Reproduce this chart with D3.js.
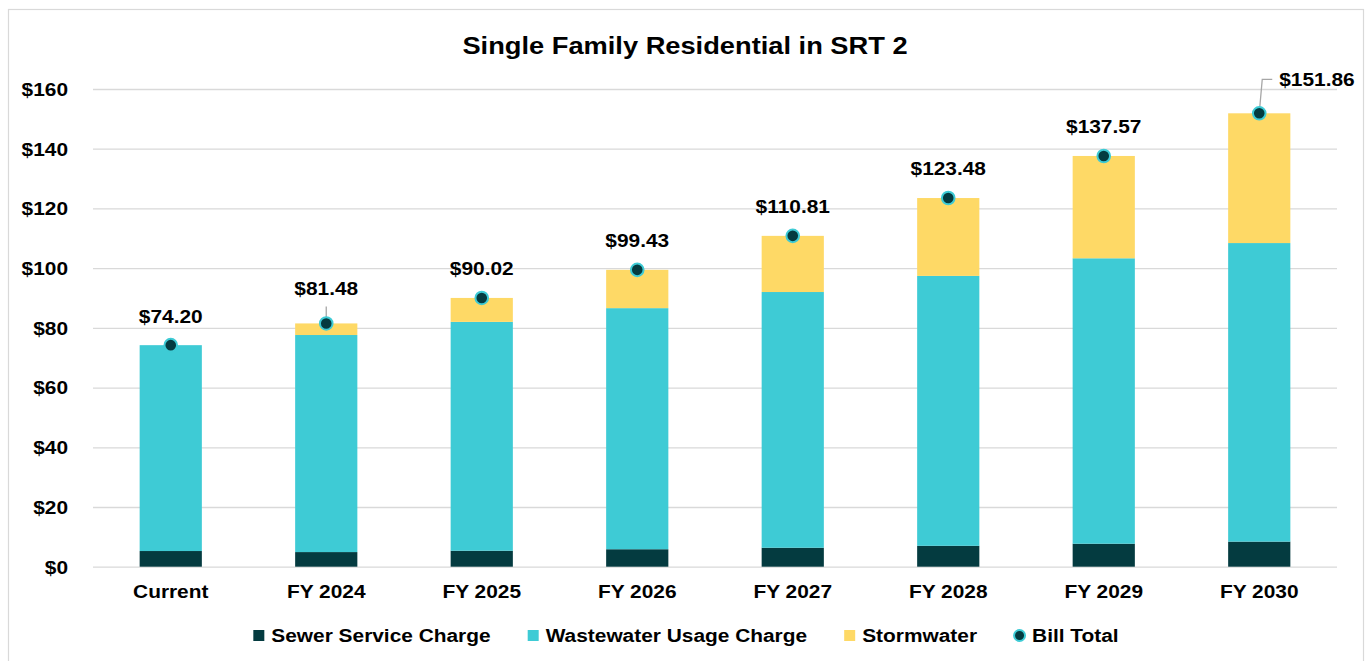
<!DOCTYPE html>
<html>
<head>
<meta charset="utf-8">
<script src="https://cdn.jsdelivr.net/npm/d3@7"></script>
<style>
  html, body { margin: 0; padding: 0; background: #fff; }
  svg { display: block; font-family: "Liberation Sans", Arial, sans-serif; }
</style>
</head>
<body>
<svg id="chart" width="1371" height="661"></svg>
<script>
// Monthly bill components, single family residential (SRT 2)
const categories = ["Current", "FY 2024", "FY 2025", "FY 2026", "FY 2027", "FY 2028", "FY 2029", "FY 2030"];
const sewerService = [5.25, 4.90, 5.35, 5.85, 6.35, 7.00, 7.70, 8.40];
const wastewaterUsage = [68.95, 72.70, 76.65, 80.75, 85.65, 90.40, 95.60, 100.00];
const stormwater = [0.00, 3.88, 8.02, 12.83, 18.81, 26.08, 34.27, 43.46];
const billTotal = [74.20, 81.48, 90.02, 99.43, 110.81, 123.48, 137.57, 151.86];
const yTickValues = [0, 20, 40, 60, 80, 100, 120, 140, 160];
const seriesNames = ["Sewer Service Charge", "Wastewater Usage Charge", "Stormwater", "Bill Total"];

const colors = {
  sewer: "#043b40",
  wastewater: "#3ecbd5",
  storm: "#fed966",
  grid: "#d9d9d9",
  leader: "#a6a6a6",
  text: "#000"
};
const STRETCH = 1.16; // wide bold lettering

const svg = d3.select("#chart");
const W = 1371, H = 661;
const plot = { left: 93, right: 1337, top: 89, bottom: 566.7 };

// outer frame
svg.append("rect")
  .attr("x", 8.5).attr("y", 9.5)
  .attr("width", 1355).attr("height", 680)
  .attr("fill", "#fff").attr("stroke", colors.grid).attr("stroke-width", 1.2);

const x = d3.scaleBand().domain(categories).range([plot.left, plot.right]).padding(0);
const y = d3.scaleLinear().domain([0, 160]).range([plot.bottom, plot.top]);
const barW = x.bandwidth() * 0.4;

// stretched text helper
function stretchedText(parent, tx, ty, str, size, anchor) {
  return parent.append("text")
    .attr("transform", `translate(${tx},${ty}) scale(${STRETCH},1)`)
    .attr("text-anchor", anchor || "middle")
    .attr("font-size", size)
    .attr("font-weight", "bold")
    .attr("fill", colors.text)
    .text(str);
}

// title
stretchedText(svg, 685, 54, "Single Family Residential in SRT 2", 23.5, "middle");

// gridlines via y axis
const yAxis = d3.axisLeft(y).tickValues(yTickValues)
  .tickSize(-(plot.right - plot.left))
  .tickFormat(d => "$" + d);
const gy = svg.append("g").attr("transform", `translate(${plot.left},0)`).call(yAxis);
gy.select(".domain").remove();
gy.selectAll(".tick line").attr("stroke", colors.grid).attr("stroke-width", 1.3);
gy.selectAll(".tick text")
  .attr("x", 0).attr("dy", null)
  .attr("transform", `translate(-25,6.3) scale(${STRETCH},1)`)
  .attr("font-size", 18).attr("font-weight", "bold")
  .attr("font-family", "Liberation Sans, Arial, sans-serif")
  .attr("fill", colors.text);

// stacked bars
const rows = categories.map((c, i) => ({
  cat: c, sewer: sewerService[i], wastewater: wastewaterUsage[i], storm: stormwater[i], total: billTotal[i]
}));
const stack = d3.stack().keys(["sewer", "wastewater", "storm"])(rows);
const fills = { sewer: colors.sewer, wastewater: colors.wastewater, storm: colors.storm };

svg.append("g").selectAll("g").data(stack).join("g")
  .attr("fill", d => fills[d.key])
  .selectAll("rect").data(d => d).join("rect")
  .attr("x", d => x(d.data.cat) + (x.bandwidth() - barW) / 2)
  .attr("width", barW)
  .attr("y", d => y(d[1]))
  .attr("height", d => Math.max(0, y(d[0]) - y(d[1])));

// x axis labels
const xAxis = d3.axisBottom(x).tickSize(0);
const gx = svg.append("g").attr("transform", `translate(0,${plot.bottom})`).call(xAxis);
gx.select(".domain").remove();
gx.selectAll(".tick text")
  .attr("y", 0).attr("dy", null)
  .attr("transform", `translate(0,31) scale(${STRETCH},1)`)
  .attr("font-size", 18).attr("font-weight", "bold")
  .attr("font-family", "Liberation Sans, Arial, sans-serif")
  .attr("fill", colors.text);

// bill total markers, labels and leaders
const fmt = d3.format("$.2f");
const labels = svg.append("g");
rows.forEach((r, i) => {
  const cx = x(r.cat) + x.bandwidth() / 2;
  const cy = y(r.total);
  if (i === 1) {
    labels.append("line")
      .attr("x1", cx).attr("y1", cy).attr("x2", cx).attr("y2", cy - 17)
      .attr("stroke", colors.leader).attr("stroke-width", 1.3);
    stretchedText(labels, cx, cy - 28, fmt(r.total), 18, "middle");
  } else if (i === rows.length - 1) {
    labels.append("polyline")
      .attr("points", `${cx},${cy} ${cx + 3},${cy - 34} ${cx + 13},${cy - 34}`)
      .attr("fill", "none").attr("stroke", colors.leader).attr("stroke-width", 1.3);
    stretchedText(labels, cx + 20, cy - 27, fmt(r.total), 18, "start");
  } else {
    stretchedText(labels, cx, cy - 22.6, fmt(r.total), 18, "middle");
  }
});
svg.append("g").selectAll("circle").data(rows).join("circle")
  .attr("cx", d => x(d.cat) + x.bandwidth() / 2)
  .attr("cy", d => y(d.total))
  .attr("r", 6.3)
  .attr("fill", colors.sewer)
  .attr("stroke", colors.wastewater)
  .attr("stroke-width", 2);

// legend
const legend = svg.append("g");
const legendY = 636;
const swatch = 11, swGap = 7, itemGap = 37;
const items = seriesNames.map((n, i) => ({ name: n, kind: i === 3 ? "dot" : "box", color: [colors.sewer, colors.wastewater, colors.storm, colors.sewer][i] }));
// measure widths
const meas = items.map(it => {
  const t = legend.append("text").attr("font-size", 18).attr("font-weight", "bold").text(it.name);
  const w = t.node().getComputedTextLength() * STRETCH;
  t.remove();
  return w;
});
const totalW = d3.sum(meas) + items.length * (swatch + swGap) + (items.length - 1) * itemGap;
let lx = 686 - totalW / 2;
items.forEach((it, i) => {
  if (it.kind === "box") {
    legend.append("rect").attr("x", lx).attr("y", legendY - 6).attr("width", swatch).attr("height", swatch).attr("fill", it.color);
  } else {
    legend.append("circle").attr("cx", lx + swatch / 2).attr("cy", legendY - 0.5).attr("r", 5.5)
      .attr("fill", colors.sewer).attr("stroke", colors.wastewater).attr("stroke-width", 2);
  }
  stretchedText(legend, lx + swatch + swGap, legendY + 6.3, it.name, 18, "start");
  lx += swatch + swGap + meas[i] + itemGap;
});
</script>
</body>
</html>
